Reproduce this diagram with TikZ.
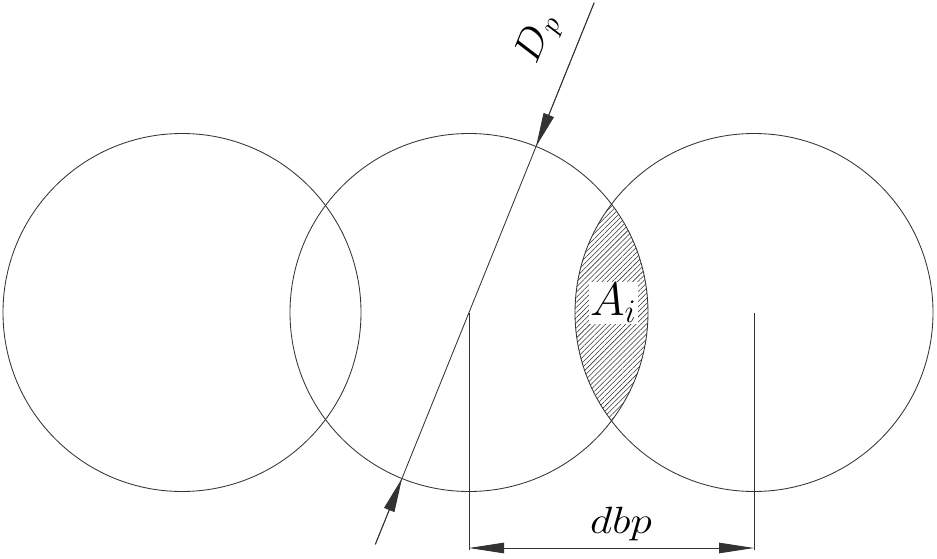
\documentclass[tikz,border=0pt]{standalone}
\usepackage{fix-cm}
\usetikzlibrary{calc,arrows.meta,patterns.meta}
\begin{document}
\begin{tikzpicture}[x=1pt,y=1pt,
  ln/.style={draw=black!80,line width=0.85pt},
  ring/.style={ln,circle,minimum size=358pt,inner sep=0pt,outer sep=0pt},
  tipd/.style={-{Triangle[length=34pt,width=11pt]}},
  tipdim/.style={{Triangle[length=35pt,width=10.5pt]}-{Triangle[length=35pt,width=10.5pt]}},
  lbl/.style={inner sep=0pt}]
\useasboundingbox (0,0) rectangle (937,558);
% hatched lens
\begin{scope}
  \clip (469,245.5) circle (179pt);
  \fill[pattern={Lines[angle=45,distance=3.6pt,line width=0.55pt]},pattern color=black!80] (754,245.5) circle (179pt);
\end{scope}
\node[ring] (c1) at (182,245.5) {};
\node[ring] (c2) at (469,245.5) {};
\node[ring] (c3) at (754,245.5) {};
% label A_i with white background
\node[lbl,fill=white,inner sep=1.5pt,font=\fontsize{47}{50}\selectfont] (ai) at (613,255) {$A_i$};
% diameter line
\coordinate (dtop) at ($(c2.center)+(68:334)$);
\coordinate (dbot) at ($(c2.center)+(248:250)$);
\draw[ln] (dtop) -- (dbot);
\draw[ln,tipd] (dtop) -- (c2.68);
\draw[ln,tipd] (dbot) -- (c2.248);
\node[lbl,rotate=68,xscale=1.1,font=\fontsize{39}{42}\selectfont] (dp) at (539,519) {$D_p$};
% dimension dbp
\coordinate (e2) at (469,8);
\coordinate (e3) at (754,8);
\coordinate (m2) at (469,10);
\coordinate (m3) at (754,10);
\draw[ln] (c2.center) -- (e2);
\draw[ln] (c3.center) -- (e3);
\draw[ln,tipdim] (m2) -- (m3);
\node[lbl,anchor=base,xscale=1.15,font=\fontsize{38}{42}\selectfont] (dbp) at (621,25) {$dbp$};
\end{tikzpicture}
\end{document}
